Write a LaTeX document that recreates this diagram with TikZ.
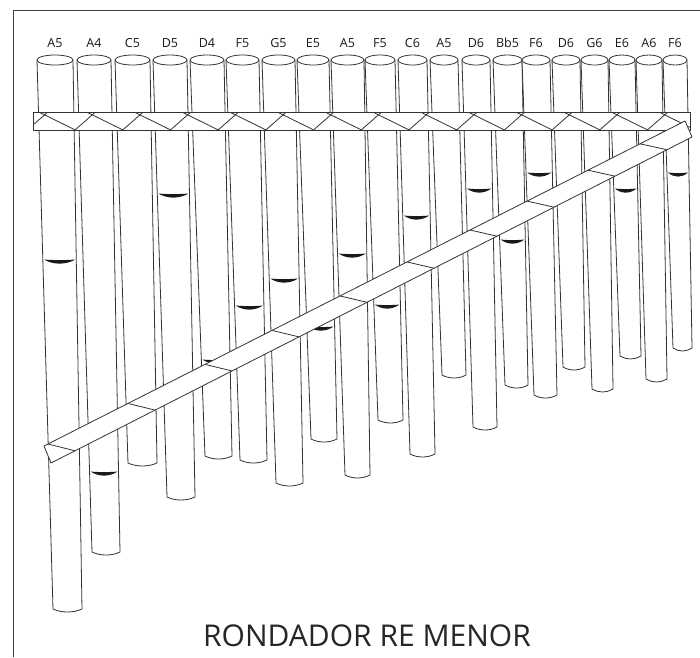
\documentclass[tikz,border=0pt]{standalone}
\usepackage{fontspec}
\setmainfont{Open Sans}
\begin{document}
\begin{tikzpicture}[x=1pt,y=-1pt,
  outline/.style={draw=black!80, line width=0.8pt},
  pipebody/.style={outline, fill=white},
  bandshape/.style={outline, fill=white, line join=round},
  waxmark/.style={fill=black!90},
  notelabel/.style={font=\fontsize{12.5}{14}\selectfont, text=black!90, inner sep=0pt},
  titletext/.style={font=\fontsize{30}{34}\selectfont, text=black!85, inner sep=0pt}]
\useasboundingbox (0,0) rectangle (700,657);

% frame (top and left sides)
\draw[black!75, line width=0.9pt] (13,657) -- (13,10) -- (700,10);

% pipes: index / top-left x / top-right x / bottom-left x / bottom-right x / bottom y / note / wax mark y
\foreach \i/\tl/\tr/\bl/\br/\bot/\lab/\mk in {
  1/37/73/53/82/612/A5/260,
  2/77/111/92/120/555/A4/472,
  3/115/150/128/157/466/C5/0,
  4/153/187/167/195/500/D5/194,
  5/190/224/205/232/459/D4/360,
  6/226/259/240/267/463/F5/306,
  7/262/295/276/303/486/G5/279,
  8/297/329/311/337/442/E5/327,
  9/331/364/345/370/478/A5/254,
  10/365/395/378/403/423/F5/305,
  11/398/427/410/435/457/C6/216,
  12/430/458/442/466/378/A5/0,
  13/462/490/473/497/430/D6/189,
  14/493/522/505/528/388/Bb5/240,
  15/522/550/534/557/398/F6/173,
  16/552/580/563/585/370/D6/0,
  17/581/608/592/613/392/G6/0,
  18/609/635/620/641/359/E6/189,
  19/636/662/646/667/382/A6/0,
  20/663/687/673/692/351/F6/173} {
  \pgfmathsetmacro\w{\br-\bl}
  \draw[pipebody] (\tl,60) -- (\bl,\bot-3)
    .. controls ({\bl+0.3*\w},\bot+1) and ({\br-0.3*\w},\bot+1) .. (\br,\bot-3)
    -- (\tr,60);
  \pgfmathsetmacro\cx{(\tl+\tr)/2}
  \pgfmathsetmacro\rx{(\tr-\tl)/2}
  \draw[outline, fill=white] (\cx,60) ellipse [x radius=\rx, y radius=5];
  \node[notelabel] (lab\i) at (\cx,43) {\lab};
  \ifnum\mk>0
    \pgfmathsetmacro\tt{(\mk-60)/(\bot-63)}
    \pgfmathsetmacro\xl{\tl+(\bl-\tl)*\tt+1}
    \pgfmathsetmacro\xr{\tr+(\br-\tr)*\tt-1}
    \pgfmathsetmacro\dd{0.3*(\xr-\xl)}
    \fill[waxmark] (\xl,\mk-0.5) .. controls (\xl+\dd,\mk+0.3) and (\xr-\dd,\mk+0.3) .. (\xr,\mk-0.5)
      .. controls (\xr-\dd,\mk+5) and (\xl+\dd,\mk+5) .. (\xl,\mk-0.5) -- cycle;
  \fi
}

% upper binding band with crossed cords
\draw[bandshape] (33,112) rectangle (690,130);
\begin{scope}
  \clip (33,112) rectangle (690,130);
  \foreach \k in {-1,...,13} {
    \pgfmathsetmacro\c{91+47.7*\k}
    \draw[outline] (\c-4.5,112) -- (\c+32,130);
    \draw[outline] (\c-16,130) -- (\c+4.5,112);
  }
\end{scope}

% diagonal brace
\coordinate (dTL) at (44,446);
\coordinate (dTR) at (685,121);
\coordinate (dBR) at (692,137);
\coordinate (dBL) at (51,463);
\draw[bandshape] (dTL) -- (dTR) -- (dBR) -- (dBL) -- cycle;
\foreach \xt in {48,128,205,272,340,407,470,527,588,640} {
  \pgfmathsetmacro\yt{446-(325/641)*(\xt-44)}
  \pgfmathsetmacro\xb{\xt+27}
  \pgfmathsetmacro\yb{463-(326/641)*(\xb-51)}
  \draw[outline] (\xt,\yt) -- (\xb,\yb);
}

\node[titletext] (ttl) at (367,636) {RONDADOR RE MENOR};
\end{tikzpicture}
\end{document}
